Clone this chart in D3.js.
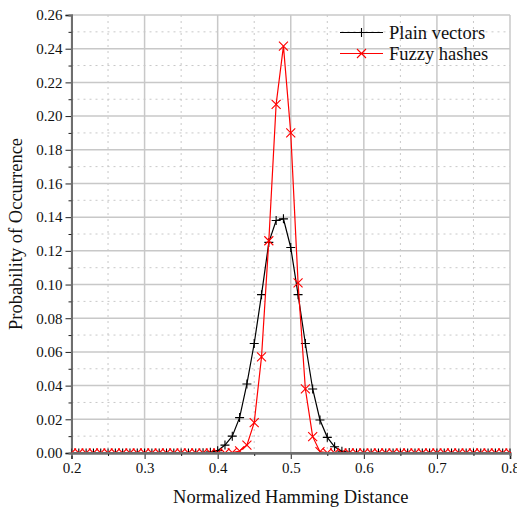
<!DOCTYPE html>
<head>
<meta charset="utf-8">
<title>Normalized Hamming Distance</title>
<style>
body, html { margin: 0; padding: 0; background: #fff; }
svg, svg text { font-family: "Liberation Serif", "Times New Roman", "DejaVu Serif", serif; }
.grid-major { stroke: #c8c8c8; stroke-width: 1.5; }
.grid-minor { stroke: #c8c8c8; stroke-width: 1; stroke-dasharray: 2 4; }
.axis text { font-size: 15px; fill: #111; }
</style>
<script src="https://d3js.org/d3.v7.min.js"></script>
</head>
<body>
<script>
// distances, 0.20 .. 0.80 in steps of 0.01
var xs = d3.range(61).map(function(i) { return +(0.2 + i * 0.01).toFixed(2); });

// non-zero parts, everything else is 0
var plainFrom = 0.38;
var plainVals = [0.0002, 0.0005, 0.0014, 0.0047, 0.010, 0.021, 0.041, 0.065, 0.094,
                 0.125, 0.138, 0.139, 0.122, 0.094, 0.065, 0.038, 0.0196, 0.0093,
                 0.0037, 0.001, 0.0003];
var fuzzyFrom = 0.42;
var fuzzyVals = [0.0002, 0.0012, 0.0047, 0.018, 0.057, 0.126, 0.207, 0.2415, 0.190,
                 0.101, 0.038, 0.0097, 0.0008, 0.0001];

var seriesNames = ["Plain vectors", "Fuzzy hashes"];
var seriesColors = ["#000000", "#ff0000"];
var xTicks = [0.2, 0.3, 0.4, 0.5, 0.6, 0.7, 0.8];
var yTicks = d3.range(0, 14).map(function(i) { return +(i * 0.02).toFixed(2); });

function fill(from, vals) {
  return xs.map(function(x) {
    var k = Math.round((x - from) * 100);
    return { x: x, y: (k >= 0 && k < vals.length) ? vals[k] : 0 };
  });
}
var series = [fill(plainFrom, plainVals), fill(fuzzyFrom, fuzzyVals)];

var W = 517, H = 510;
var margin = { top: 15, right: 7, bottom: 57, left: 71.5 };
var w = W - margin.left - margin.right, h = H - margin.top - margin.bottom;
var serif = "Liberation Serif, Times New Roman, serif";

var svg = d3.select("body").append("svg").attr("width", W).attr("height", H);
var g = svg.append("g").attr("transform", "translate(" + margin.left + "," + margin.top + ")");

var x = d3.scaleLinear().domain([0.2, 0.8]).range([0, w]);
var y = d3.scaleLinear().domain([0, 0.26]).range([h, 0]);

// minor grid (dotted)
var xMinor = d3.range(0.25, 0.8, 0.1);
var yMinor = d3.range(0.01, 0.26, 0.02);
g.selectAll(".gxm").data(xMinor).enter().append("line").attr("class", "grid-minor")
  .attr("x1", x).attr("x2", x).attr("y1", 0).attr("y2", h);
g.selectAll(".gym").data(yMinor).enter().append("line").attr("class", "grid-minor")
  .attr("x1", 0).attr("x2", w).attr("y1", y).attr("y2", y);
// major grid
g.selectAll(".gx").data(xTicks).enter().append("line").attr("class", "grid-major")
  .attr("x1", x).attr("x2", x).attr("y1", 0).attr("y2", h);
g.selectAll(".gy").data(yTicks).enter().append("line").attr("class", "grid-major")
  .attr("x1", 0).attr("x2", w).attr("y1", y).attr("y2", y);

// axes
g.append("g").attr("class", "axis").attr("transform", "translate(0," + h + ")")
  .call(d3.axisBottom(x).tickValues(xTicks).tickFormat(d3.format(".1f")).tickSize(6).tickPadding(3));
g.append("g").attr("class", "axis").attr("transform", "translate(0," + h + ")")
  .call(d3.axisBottom(x).tickValues(xMinor).tickFormat("").tickSize(3));
g.append("g").attr("class", "axis")
  .call(d3.axisLeft(y).tickValues(yTicks).tickFormat(d3.format(".2f")).tickSize(6).tickPadding(3));
g.append("g").attr("class", "axis")
  .call(d3.axisLeft(y).tickValues(yMinor).tickFormat("").tickSize(3));
g.selectAll(".axis").attr("font-family", null).attr("font-size", null);
g.selectAll(".axis text").style("font-family", serif).style("font-size", "15px");
g.selectAll(".axis .domain").attr("stroke-width", 2).attr("stroke", "#6e6e6e");
g.selectAll(".axis line").attr("stroke", "#222").attr("stroke-width", 1);

// clip markers to plot area
svg.append("clipPath").attr("id", "clip").append("rect")
  .attr("x", 0).attr("y", -12).attr("width", w + 1).attr("height", h + 12);

var plot = g.append("g").attr("clip-path", "url(#clip)");
var line = d3.line().x(function(d) { return x(d.x); }).y(function(d) { return y(d.y); });

var sym = [
  d3.symbol().type({ draw: function(c, s) { var r = 4.5; c.moveTo(-r, 0); c.lineTo(r, 0); c.moveTo(0, -r); c.lineTo(0, r); } })(),
  d3.symbol().type({ draw: function(c, s) { var r = 4.5; c.moveTo(-r, -r); c.lineTo(r, r); c.moveTo(-r, r); c.lineTo(r, -r); } })()
];

series.forEach(function(s, i) {
  plot.append("path").datum(s).attr("d", line)
    .attr("fill", "none").attr("stroke", seriesColors[i]).attr("stroke-width", 1.2);
  plot.selectAll(".m" + i).data(s).enter().append("path")
    .attr("d", sym[i])
    .attr("transform", function(d) { return "translate(" + x(d.x) + "," + y(d.y) + ")"; })
    .attr("fill", "none").attr("stroke", seriesColors[i]).attr("stroke-width", 1.1);
});

// redraw bottom axis line on top of markers
g.append("line").attr("x1", 0).attr("x2", w).attr("y1", h).attr("y2", h)
  .attr("stroke", "#6e6e6e").attr("stroke-width", 2);

// legend
var leg = g.append("g").attr("transform", "translate(" + (340 - margin.left) + "," + (32.5 - margin.top) + ")");
seriesNames.forEach(function(name, i) {
  var row = leg.append("g").attr("transform", "translate(0," + (i * 21) + ")");
  row.append("line").attr("x1", 0).attr("x2", 43).attr("y1", 0).attr("y2", 0)
    .attr("stroke", seriesColors[i]).attr("stroke-width", 1.2);
  row.append("path").attr("d", sym[i]).attr("transform", "translate(21.5,0)")
    .attr("fill", "none").attr("stroke", seriesColors[i]).attr("stroke-width", 1.1);
  row.append("text").attr("x", 49).attr("y", 6).style("font-family", serif)
    .attr("font-size", "18.5px").attr("fill", "#111").text(name);
});

// axis titles
svg.append("text").attr("x", margin.left + w / 2).attr("y", 503).attr("text-anchor", "middle")
  .style("font-family", serif).attr("font-size", "18.5px").attr("fill", "#111").text("Normalized Hamming Distance");
svg.append("text").attr("transform", "translate(22," + (margin.top + h / 2) + ") rotate(-90)")
  .attr("text-anchor", "middle").style("font-family", serif)
  .attr("font-size", "18.5px").attr("fill", "#111").text("Probability of Occurrence");
</script>
</body>
</html>
